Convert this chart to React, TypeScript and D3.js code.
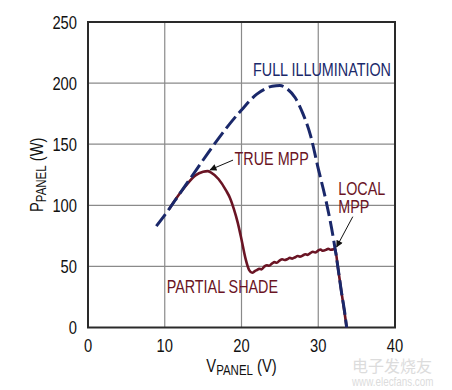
import { useRef, useEffect } from 'react'
import * as d3 from 'd3'

// full illumination curve (dashed)
const fullV = [8.9, 10, 12, 14, 16, 18, 20, 22, 23, 24, 25, 26, 27, 28, 29, 30, 31, 32, 32.5, 33, 33.5, 33.7]
const fullP = [83, 92, 110, 128, 146, 163, 178, 191, 195, 197.5, 198, 195, 188, 175, 157, 130, 104, 72, 52, 30, 10, 0]

// partial shade curve (solid, noisy plateau)
const shadeV = [
  10.6, 11, 12, 13, 14, 15, 15.6, 16, 17, 18, 18.5, 19, 19.5, 20, 20.5, 21, 21.4,
  21.7, 22, 22.3, 22.6, 23, 23.3, 23.6, 24, 24.3, 24.6, 25, 25.3, 25.6, 26, 26.3,
  26.6, 27, 27.3, 27.6, 28, 28.3, 28.6, 29, 29.3, 29.6, 30, 30.3, 30.6, 31, 31.3,
  31.6, 32, 32.2, 32.5, 33, 33.5, 33.7,
]
const shadeP = [
  97, 101, 110, 118, 124.5, 127.5, 128, 127, 121.5, 112, 106, 97, 86, 72, 57, 47, 44.8,
  46, 47, 48, 47.6, 50, 51, 50.5, 52.5, 53.5, 53, 55, 55.8, 55.2, 56, 57,
  56.4, 57.5, 58.5, 58, 59, 60, 59.4, 61, 62, 61.4, 63, 63.8, 62.8, 63.5, 64.5,
  63.6, 64, 64.5, 52, 30, 9, 0,
]

const xTicks = [0, 10, 20, 30, 40]
const yTicks = [0, 50, 100, 150, 200, 250]

const NAVY = '#1a286a'
const MAROON = '#6a1424'
const FONT = '"Liberation Sans", Arial, sans-serif'
const SQUEEZE = 0.82 // condensed look

const App = () => {
  const ref = useRef<SVGSVGElement>(null)
  const width = 452
  const height = 390

  useEffect(() => {
    const svg = d3.select(ref.current as SVGSVGElement)
    svg.selectAll('*').remove()

    const x = d3.scaleLinear().domain([0, 40]).range([88, 395])
    const y = d3.scaleLinear().domain([0, 250]).range([327.5, 22])

    const label = (
      parent: d3.Selection<any, any, any, any>,
      px: number,
      py: number,
      size: number,
      anchor = 'start',
      rotate = 0,
    ) =>
      parent
        .append('text')
        .attr('font-family', FONT)
        .attr('font-size', size)
        .attr('text-anchor', anchor)
        .attr('transform', `translate(${px},${py}) rotate(${rotate}) scale(${SQUEEZE},1)`)

    const defs = svg.append('defs')
    defs
      .append('marker')
      .attr('id', 'arrow')
      .attr('viewBox', '0 0 10 10')
      .attr('refX', 9)
      .attr('refY', 5)
      .attr('markerWidth', 9)
      .attr('markerHeight', 7)
      .attr('markerUnits', 'userSpaceOnUse')
      .attr('orient', 'auto')
      .append('path')
      .attr('d', 'M0,0 L10,5 L0,10 z')
      .attr('fill', '#111')

    // grid
    const grid = svg.append('g').attr('stroke', '#8a8a8a').attr('stroke-width', 1.2)
    grid
      .selectAll('line.v')
      .data(xTicks.slice(1, -1))
      .enter()
      .append('line')
      .attr('x1', (d) => x(d))
      .attr('x2', (d) => x(d))
      .attr('y1', y(250))
      .attr('y2', y(0))
    grid
      .selectAll('line.h')
      .data(yTicks.slice(1, -1))
      .enter()
      .append('line')
      .attr('class', 'h')
      .attr('x1', x(0))
      .attr('x2', x(40))
      .attr('y1', (d) => y(d))
      .attr('y2', (d) => y(d))

    // frame
    svg
      .append('rect')
      .attr('x', x(0))
      .attr('y', y(250))
      .attr('width', x(40) - x(0))
      .attr('height', y(0) - y(250))
      .attr('fill', 'none')
      .attr('stroke', '#2a2a2a')
      .attr('stroke-width', 2)

    // tick labels
    const ticks = svg.append('g').attr('fill', '#111')
    yTicks.forEach((d) => label(ticks, 77, y(d) + 6.5, 18, 'end').text(d))
    xTicks.forEach((d) => label(ticks, x(d), 352, 18, 'middle').text(d))

    // axis titles
    const xt = label(svg, (x(0) + x(40)) / 2, 372, 18, 'middle').attr('fill', '#111')
    xt.append('tspan').text('V')
    xt.append('tspan').attr('font-size', 14).attr('dy', 3).text('PANEL')
    xt.append('tspan').attr('dy', -3).text(' (V)')

    const yt = label(svg, 43, (y(0) + y(250)) / 2, 18, 'middle', -90).attr('fill', '#111')
    yt.append('tspan').text('P')
    yt.append('tspan').attr('font-size', 14).attr('dy', 3).text('PANEL')
    yt.append('tspan').attr('dy', -3).text(' (W)')

    // curves
    const line = d3
      .line<[number, number]>()
      .x((d) => x(d[0]))
      .y((d) => y(d[1]))
      .curve(d3.curveMonotoneX)

    const shade = shadeV.map((v, i) => [v, shadeP[i]] as [number, number])
    const full = fullV.map((v, i) => [v, fullP[i]] as [number, number])

    svg
      .append('path')
      .attr('d', line(shade))
      .attr('fill', 'none')
      .attr('stroke', MAROON)
      .attr('stroke-width', 2.6)
      .attr('stroke-linejoin', 'round')

    svg
      .append('path')
      .attr('d', line(full))
      .attr('fill', 'none')
      .attr('stroke', NAVY)
      .attr('stroke-width', 3)
      .attr('stroke-dasharray', '15 5')

    // annotations
    const notes = [
      { t: 'FULL ILLUMINATION', v: 21.5, p: 205.8, c: NAVY },
      { t: 'TRUE MPP', v: 19.1, p: 133, c: MAROON },
      { t: 'LOCAL', v: 32.6, p: 108.4, c: MAROON },
      { t: 'MPP', v: 32.6, p: 94, c: MAROON },
      { t: 'PARTIAL SHADE', v: 10.25, p: 28.5, c: MAROON },
    ]
    const ng = svg.append('g')
    notes.forEach((d) => label(ng, x(d.v), y(d.p), 17.5).attr('fill', d.c).text(d.t))

    const arrows = [
      { v1: 18.9, p1: 137, v2: 15.9, p2: 129 },
      { v1: 34.5, p1: 90.7, v2: 32.4, p2: 66 },
    ]
    svg
      .append('g')
      .selectAll('line')
      .data(arrows)
      .enter()
      .append('line')
      .attr('x1', (d) => x(d.v1))
      .attr('y1', (d) => y(d.p1))
      .attr('x2', (d) => x(d.v2))
      .attr('y2', (d) => y(d.p2))
      .attr('stroke', '#111')
      .attr('stroke-width', 1)
      .attr('marker-end', 'url(#arrow)')

    // watermark
    const wm = svg.append('g').attr('fill', '#dcdcdc')
    wm.append('text')
      .attr('x', 352)
      .attr('y', 372)
      .attr('font-family', '"Noto Sans CJK SC", sans-serif')
      .attr('font-size', 16)
      .text('电子发烧友')
    label(wm, 352, 386, 12).text('www.elecfans.com')
  }, [])

  return (
    <svg
      ref={ref}
      width={width}
      height={height}
      style={{ position: 'absolute', left: 0, top: 0, background: '#fff' }}
    />
  )
}

export default App
